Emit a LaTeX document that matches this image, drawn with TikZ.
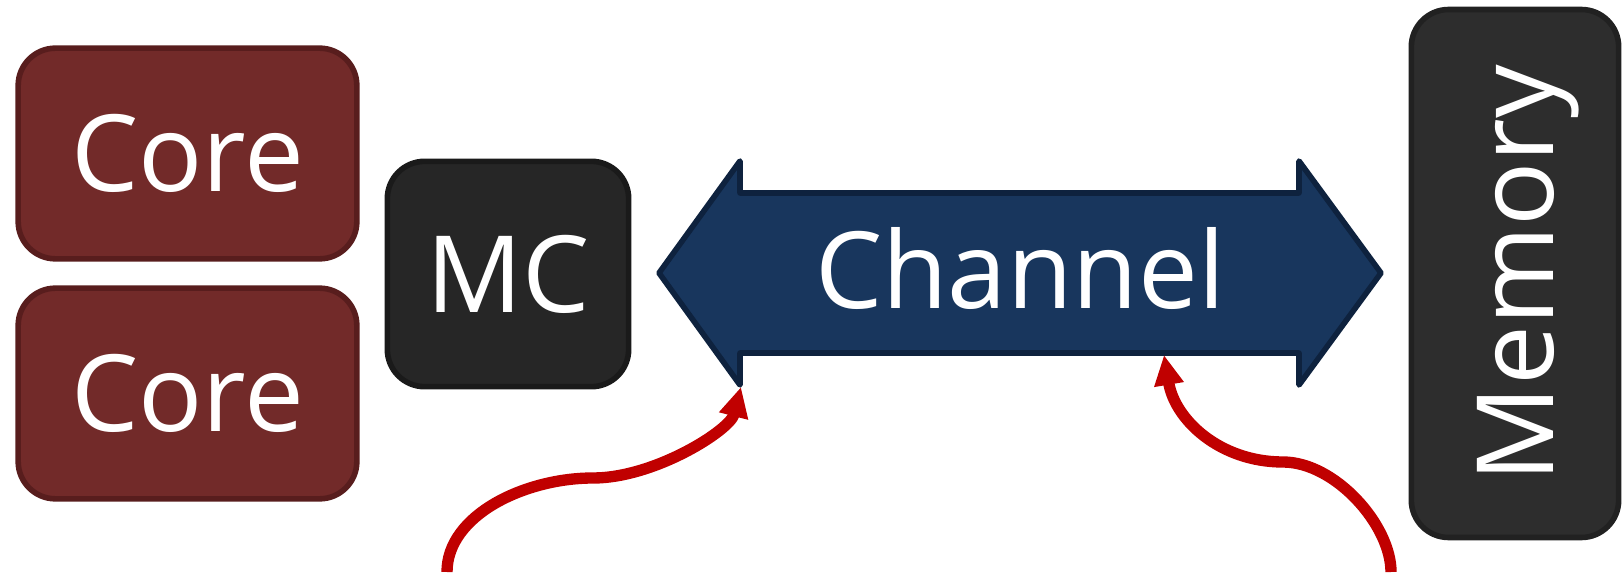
\documentclass[tikz,border=0pt]{standalone}
\usepackage{fontspec}
\setmainfont{Open Sans}
\usetikzlibrary{arrows.meta}
\definecolor{corefill}{RGB}{114,42,41}
\definecolor{coreline}{RGB}{88,29,29}
\definecolor{mcfill}{RGB}{38,38,38}
\definecolor{mcline}{RGB}{26,26,26}
\definecolor{memfill}{RGB}{45,45,45}
\definecolor{memline}{RGB}{33,33,33}
\definecolor{chanfill}{RGB}{24,54,93}
\definecolor{chanline}{RGB}{14,34,62}
\definecolor{hlred}{RGB}{192,0,0}
\begin{document}
\begin{tikzpicture}[x=0.75pt,y=-0.75pt,
  box/.style={rounded corners=28pt, line width=4.2pt, inner sep=0pt, text=white,
    font=\fontsize{80}{96}\selectfont, text height=57pt, text depth=0pt},
  corebox/.style={box, fill=corefill, draw=coreline, minimum width=254pt, minimum height=158pt},
  mcbox/.style={box, fill=mcfill, draw=mcline, minimum width=181pt, minimum height=169pt},
  membox/.style={box, fill=memfill, draw=memline, rotate=90, minimum width=396pt, minimum height=155.5pt},
  chanshape/.style={fill=chanfill, draw=chanline, line width=4.2pt, line join=round},
  chanlabel/.style={inner sep=0pt, text=white, font=\fontsize{80}{96}\selectfont, text height=57pt, text depth=0pt},
  redarrow/.style={draw=hlred, line width=8.5pt, -{Triangle[length=22.5pt,width=21pt]}}
]
\useasboundingbox (0,0) rectangle (1622,581);

\node[corebox] (core1) at (187.5,153.5) {Core};
\node[corebox] (core2) at (187.5,393.5) {Core};
\node[mcbox] (mc) at (508,274) {MC};
\node[membox] (mem) at (1515,273.5) {Memory};

\draw[chanshape] (659,273) -- (740,161) -- (740,193) -- (1299,193) -- (1299,161)
  -- (1381,273) -- (1299,385) -- (1299,353) -- (740,353) -- (740,385) -- cycle;
\node[chanlabel] (chan) at (1020,270) {Channel};

\coordinate (lheadbot) at (741,387);
\coordinate (shaftbot) at (1164,355);
\coordinate (s1) at (447,572);
\coordinate (s2) at (1391,572);

\draw[redarrow] (s1) .. controls (447,515) and (525,478) .. (593,478)
  .. controls (655,478) and (730,430) .. (lheadbot);
\draw[redarrow] (s2) .. controls (1391,525) and (1335,462) .. (1283,462)
  .. controls (1220,462) and (1175,420) .. (shaftbot);
\end{tikzpicture}
\end{document}
